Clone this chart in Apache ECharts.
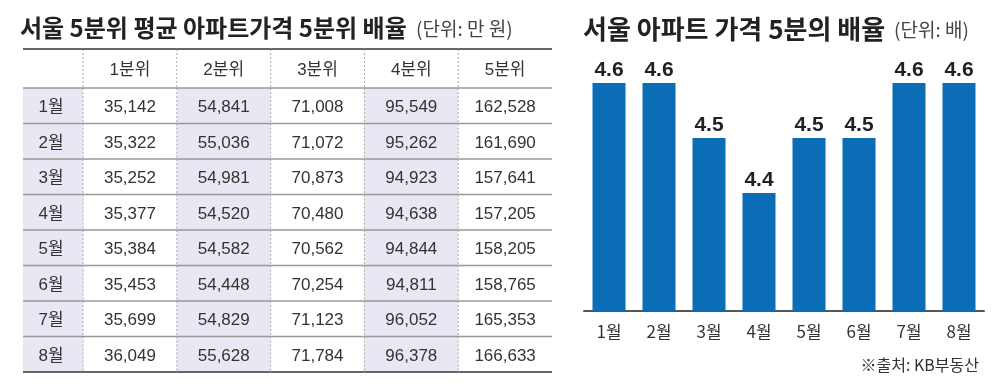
<!DOCTYPE html>
<html><head><meta charset="utf-8">
<script src="https://cdn.jsdelivr.net/npm/echarts@6/dist/echarts.min.js"></script>
<style>html,body{margin:0;padding:0;background:#fff}#c{width:1000px;height:390px}</style>
</head><body><div id="c"></div>
<script>
const months = ['1월','2월','3월','4월','5월','6월','7월','8월'];
const quintiles = ['1분위','2분위','3분위','4분위','5분위'];
const q1 = [35142,35322,35252,35377,35384,35453,35699,36049];
const q2 = [54841,55036,54981,54520,54582,54448,54829,55628];
const q3 = [71008,71072,70873,70480,70562,70254,71123,71784];
const q4 = [95549,95262,94923,94638,94844,94811,96052,96378];
const q5 = [162528,161690,157641,157205,158205,158765,165353,166633];
const ratio = [4.6,4.6,4.5,4.4,4.5,4.5,4.6,4.6];

const FONT = '"Liberation Sans", "Noto Sans CJK KR", sans-serif';
const KFONT = '"Noto Sans CJK KR", sans-serif';
const cols = [q1,q2,q3,q4,q5];
const fmt = v => String(v).replace(/\B(?=(\d{3})+(?!\d))/g, ',');

const cells = [], cellText = [];
cells.push([-1,-1]); cellText.push('');
quintiles.forEach((q,j)=>{cells.push([j,-1]); cellText.push(q);});
months.forEach((m,i)=>{
  cells.push([-1,i]); cellText.push(m);
  cols.forEach((arr,j)=>{cells.push([j,i]); cellText.push(fmt(arr[i]));});
});

const chart = echarts.init(document.getElementById('c'), null, {renderer:'canvas'});
chart.setOption({
  animation:false,
  backgroundColor:'#fff',
  grid:[
    {left:23, top:49, width:529, height:323},
    {left:584, top:83, width:400, height:228}
  ],
  xAxis:[
    {gridIndex:0, type:'value', min:-0.64, max:5, show:false},
    {gridIndex:1, type:'category', data:months,
     axisLine:{lineStyle:{color:'#555', width:2}}, axisTick:{show:false},
     axisLabel:{color:'#333', fontSize:17, fontFamily:KFONT, margin:12}}
  ],
  yAxis:[
    {gridIndex:0, type:'value', min:-1.1, max:8, inverse:true, show:false},
    {gridIndex:1, type:'value', min:4.185, max:4.6, show:false}
  ],
  series:[
    {
      type:'custom', xAxisIndex:0, yAxisIndex:0, data:cells,
      renderItem:function(params, api){
        const col = api.value(0), row = api.value(1);
        const x0 = col<0 ? -0.64 : col, x1 = col<0 ? 0 : col+1;
        const y0 = row<0 ? -1.1 : row, y1 = row+1;
        const p0 = api.coord([x0,y0]), p1 = api.coord([x1,y1]);
        const shade = row>=0 && (col===-1 || col===1 || col===3);
        const ch = [];
        ch.push({type:'rect', z2:0, shape:{x:p0[0], y:p0[1], width:p1[0]-p0[0], height:p1[1]-p0[1]},
          style:{fill: shade ? '#e8e8f4' : '#ffffff'}});
        const txt = cellText[params.dataIndex];
        if (txt) ch.push({type:'text', z2:5, x:(p0[0]+p1[0])/2 - (col<0 ? 2 : 0), y:(p0[1]+p1[1])/2+2,
          style:{text:txt, fill:'#333', font:'17px '+FONT, align:'center', verticalAlign:'middle'}});
        ch.push({type:'line', z2:10, shape:{x1:p0[0], y1:p1[1], x2:p1[0], y2:p1[1]},
          style:{stroke: row===7 ? '#666' : '#999', lineWidth: row===7 ? 2 : 1.5}});
        if (row===-1) ch.push({type:'line', z2:10, shape:{x1:p0[0], y1:p0[1], x2:p1[0], y2:p0[1]},
          style:{stroke:'#666', lineWidth:2}});
        if (col<4) ch.push({type:'line', z2:8, shape:{x1:p1[0], y1:p0[1], x2:p1[0], y2:p1[1]},
          style:{stroke:'#aaa', lineWidth:1, lineDash:[2,2]}});
        return {type:'group', children:ch};
      }
    },
    {
      type:'bar', xAxisIndex:1, yAxisIndex:1, data:ratio, barWidth:33,
      itemStyle:{color:'#0b6db6'},
      label:{show:true, position:'top', distance:2, color:'#222', fontSize:21, fontWeight:'bold',
        fontFamily:FONT, formatter:p=>p.value.toFixed(1)}
    }
  ],
  graphic:[
    {type:'text', x:20, y:28, style:{text:'서울 5분위 평균 아파트가격 5분위 배율', font:'bold 24px '+KFONT, fill:'#222', verticalAlign:'middle'}},
    {type:'text', x:416, y:29, style:{text:'(단위: 만 원)', font:'19px '+KFONT, fill:'#444', verticalAlign:'middle'}},
    {type:'text', x:583, y:29, style:{text:'서울 아파트 가격 5분의 배율', font:'bold 26px '+KFONT, fill:'#222', verticalAlign:'middle'}},
    {type:'text', x:894, y:30, style:{text:'(단위: 배)', font:'19px '+KFONT, fill:'#444', verticalAlign:'middle'}},
    {type:'text', x:979, y:365, style:{text:'※출처: KB부동산', font:'16px '+KFONT, fill:'#333', align:'right', verticalAlign:'middle'}}
  ]
});
</script></body></html>
